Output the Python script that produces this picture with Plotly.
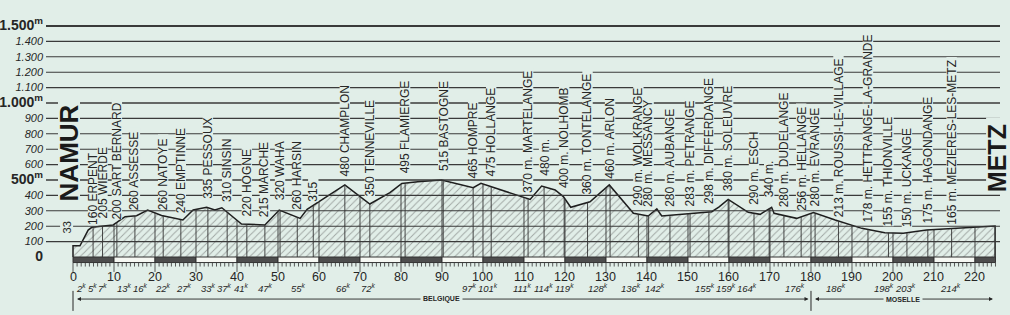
import numpy as np
import plotly.graph_objects as go

BG = "#e1eee8"
INK = "#262626"
FONT = "Liberation Sans"

# ---------------- data ----------------
profile_km = [0, 0, 1.7, 3.7, 4.6, 8.5, 9.8, 12.7, 15.5, 18.2, 20.0, 21.6, 26.8, 29.3, 32.6,
              34.6, 36.3, 41.1, 46.8, 50.3, 55.4, 57.1, 66.3, 72.4, 77.3, 80.2, 84.1, 89.9,
              97.6, 99.5, 111.5, 114.3, 117.6, 119.6, 121.4, 126.1, 130.8, 132.6, 136.7,
              140.3, 142.4, 143.6, 150.5, 155.8, 157.6, 159.8, 164.7, 167.6, 170.4, 171.0,
              176.5, 180.6, 185.9, 192.4, 198.0, 202.5, 208.2, 223.7, 224.9, 224.9]
profile_alt = [0, 73, 73, 175, 193, 201, 208, 262, 268, 305, 288, 270, 240, 305, 323,
               305, 320, 214, 208, 305, 251, 310, 468, 344, 418, 478, 489, 500,
               450, 478, 374, 461, 435, 392, 323, 359, 468, 413, 284,
               266, 312, 266, 284, 294, 325, 374, 290, 277, 323, 284,
               251, 288, 240, 186, 158, 154, 175, 201, 201, 0]

town_names = ["ERPENT", "WIERDE", "SART BERNARD", "ASSESSE", "NATOYE", "EMPTINNE", "PESSOUX",
              "SINSIN", "HOGNE", "MARCHE", "WAHA", "HARSIN", "", "CHAMPLON", "TENNEVILLE",
              "FLAMIERGE", "BASTOGNE", "HOMPRE", "HOLLANGE", "MARTELANGE", "", "NOLHOMB",
              "TONTELANGE", "ARLON", "WOLKRANGE", "MESSANCY", "AUBANGE", "PETRANGE",
              "DIFFERDANGE", "SOLEUVRE", "ESCH", "", "DUDELANGE", "HELLANGE", "EVRANGE",
              "ROUSSI-LE-VILLAGE", "HETTRANGE-LA-GRANDE", "THIONVILLE", "UCKANGE",
              "HAGONDANGE", "MEZIERES-LES-METZ"]
town_km = [4.9, 7.2, 10.7, 15.1, 22.0, 26.3, 32.9, 37.6, 42.4, 46.8, 50.5, 54.7, 58.6, 66.3,
           72.4, 81.0, 90.3, 97.6, 102.0, 111.0, 114.9, 119.8, 125.5, 131.0, 137.9, 140.4,
           145.6, 150.5, 155.1, 159.8, 166.1, 169.8, 173.4, 177.6, 181.0, 186.7, 193.9,
           198.9, 203.4, 208.5, 214.3]
town_alt = [160, 205, 200, 260, 260, 240, 335, 310, 220, 215, 320, 260, 315, 480, 350, 495,
            515, 465, 475, 370, 480, 400, 360, 460, 290, 280, 280, 283, 298, 380, 290, 340,
            280, 256, 280, 213, 178, 155, 150, 175, 165]
metre_suffix_from = "MARTELANGE"

start_name, start_alt = "NAMUR", 33
end_name = "METZ"

alt_ticks = [0, 100, 200, 300, 400, 500, 600, 700, 800, 900, 1000, 1100, 1200, 1300, 1400, 1500]
alt_tick_labels = ["0", "100", "200", "300", "400", "500", "600", "700", "800", "900",
                   "1.000", "1.100", "1.200", "1.300", "1.400", "1.500"]
major_alts = [0, 500, 1000, 1500]

km_ticks = list(range(0, 230, 10))
km_end = 225
dist_labels = [2, 5, 7, 13, 16, 22, 27, 33, 37, 41, 47, 55, 66, 72, 97, 101, 111, 114, 119,
               128, 136, 142, 155, 159, 164, 176, 186, 198, 203, 214]

region_names = ["BELGIQUE", "MOSELLE"]
region_bounds = [0, 180, 225]

# ---------------- layout constants ----------------
W, H = 1010, 315
M_L, M_R, M_T, M_B = 46, 10, 15, 0
X_RANGE = [-6.585, 226.1]
Y_RANGE = [-376.6, 1571.4]
PX_PER_KM = (W - M_L - M_R) / (X_RANGE[1] - X_RANGE[0])
PX_PER_M = (H - M_T - M_B) / (Y_RANGE[1] - Y_RANGE[0])
BAND_BOT = -36
TICK_BOT = -62
DEC_TICK_BOT = -97
KM_LABEL_Y = -133
DIST_LABEL_Y = -201
REGION_Y = -273
LABEL_SIZE = 12
LABEL_LIFT = 6  # px between altitude point and label start

# Arial / Liberation Sans advance widths (per 1000 em)
_W = {" ": 278, ".": 278, "-": 333, "m": 833}
_W.update({d: 556 for d in "0123456789"})
_W.update(dict(A=667, B=667, C=722, D=722, E=667, F=611, G=778, H=722, I=278, J=500, K=667,
               L=556, M=833, N=722, O=778, P=667, Q=778, R=722, S=667, T=611, U=722, V=667,
               W=944, X=667, Y=667, Z=611))


def text_len(s, size, bold=False):
    return sum(_W.get(c, 600) for c in s) / 1000 * size * (1.05 if bold else 1.0)


fig = go.Figure()

# hatched profile
fig.add_trace(go.Scatter(
    x=profile_km, y=profile_alt, mode="lines", fill="tozeroy",
    fillcolor="rgba(0,0,0,0)",
    fillpattern=dict(shape="/", fgcolor="#5a5a5a", bgcolor="rgba(0,0,0,0)", size=5, solidity=0.18),
    line=dict(color="#1e1e1e", width=1.5), hoverinfo="skip", showlegend=False))

# vertical lines inside the profile (towns + every 10 km)
interp_km = profile_km[1:-1]
interp_alt = profile_alt[1:-1]
vx, vy = [], []
for k in list(town_km) + [k for k in km_ticks if 0 < k < km_end]:
    h = float(np.interp(k, interp_km, interp_alt))
    vx += [k, k, None]
    vy += [0, h, None]
fig.add_trace(go.Scatter(x=vx, y=vy, mode="lines", line=dict(color="#333", width=0.9),
                         hoverinfo="skip", showlegend=False))

# km scale ticks
tx, ty = [], []
for k in range(0, km_end + 1):
    bottom = DEC_TICK_BOT if k % 10 == 0 else TICK_BOT
    tx += [k, k, None]
    ty += [BAND_BOT, bottom, None]
fig.add_trace(go.Scatter(x=tx, y=ty, mode="lines", line=dict(color="#333", width=0.8),
                         hoverinfo="skip", showlegend=False))

shapes = []
# horizontal altitude lines
for a in alt_ticks[1:]:
    w = 2.0 if a == 1500 else (1.6 if a in major_alts else 1.1)
    shapes.append(dict(type="line", xref="x", yref="y", x0=X_RANGE[0], x1=X_RANGE[1],
                       y0=a, y1=a, line=dict(color="#3a3a3a", width=w), layer="above"))
# scale band
for i, k0 in enumerate(km_ticks):
    if k0 >= km_end:
        break
    k1 = min(k0 + 10, km_end)
    dark = (i % 2 == 0)
    shapes.append(dict(type="rect", xref="x", yref="y", x0=k0, x1=k1, y0=BAND_BOT, y1=0,
                       fillcolor="#4d4d4d" if dark else "#f6f8f3",
                       line=dict(color="#333", width=1), layer="above"))
# region boundaries
for b in region_bounds[:-1]:
    shapes.append(dict(type="line", xref="x", yref="y", x0=b, x1=b, y0=-220, y1=-350,
                       line=dict(color=INK, width=1), layer="above"))


def bg_box(xc, y0, half_w_px, y_lo_px, y_hi_px):
    """background rectangle (in data coords) that breaks the grid lines behind a label"""
    shapes.append(dict(type="rect", xref="x", yref="y",
                       x0=xc - half_w_px / PX_PER_KM, x1=xc + half_w_px / PX_PER_KM,
                       y0=y0 + y_lo_px / PX_PER_M, y1=y0 + y_hi_px / PX_PER_M,
                       fillcolor=BG, line=dict(width=0), layer="above"))


annotations = []
# town labels
m_idx = town_names.index(metre_suffix_from)
for i, (k, a, n) in enumerate(zip(town_km, town_alt, town_names)):
    num = f"{a} m." if i >= m_idx else f"{a}"
    txt = f"{num} {n}" if n else num
    L = text_len(txt, LABEL_SIZE)
    bg_box(k, a, 5.2, LABEL_LIFT + 1, LABEL_LIFT + L + 4)
    annotations.append(dict(x=k, y=a, xref="x", yref="y", text=txt, textangle=-90,
                            showarrow=False, xanchor="center", yanchor="bottom", yshift=LABEL_LIFT,
                            font=dict(family=FONT, size=LABEL_SIZE, color=INK), borderpad=0))

# start / end names
NAME_SIZE = 26
Ls = text_len(start_name, NAME_SIZE, bold=True)
bg_box(profile_km[1] - 4 / PX_PER_KM, start_alt, 11, 49, 49 + Ls + 4)
annotations.append(dict(x=profile_km[1], y=start_alt, text=f"<b>{start_name}</b>", textangle=-90,
                        showarrow=False, xanchor="center", yanchor="bottom", xshift=-4, yshift=49,
                        font=dict(family=FONT, size=NAME_SIZE, color="#1a1a1a"), borderpad=0))
annotations.append(dict(x=profile_km[1], y=start_alt, text=f"{start_alt}", textangle=-90,
                        showarrow=False, xanchor="center", yanchor="bottom", xshift=-6.5, yshift=17,
                        font=dict(family=FONT, size=11, color=INK), bgcolor=BG, borderpad=0))
Le = text_len(end_name, 25, bold=True)
bg_box(profile_km[-2] + 2 / PX_PER_KM, profile_alt[-2], 11, 33, 33 + Le + 4)
annotations.append(dict(x=profile_km[-2], y=profile_alt[-2], text=f"<b>{end_name}</b>", textangle=-90,
                        showarrow=False, xanchor="center", yanchor="bottom", xshift=2, yshift=33,
                        font=dict(family=FONT, size=25, color="#1a1a1a"), borderpad=0))
# km labels
for k in km_ticks:
    if k > km_end:
        continue
    annotations.append(dict(x=k, y=KM_LABEL_Y, text=str(k), showarrow=False,
                            xanchor="center", yanchor="middle",
                            font=dict(family=FONT, size=12.5, color=INK)))

# italic cumulative distances, spread apart where they would collide
DIST_SIZE = 9.5
pos = [float(d) for d in dist_labels]
wid = [(len(str(d)) * 0.556 * DIST_SIZE + 0.45 * DIST_SIZE + 1.0) / PX_PER_KM for d in dist_labels]
for _ in range(300):
    for i in range(len(pos) - 1):
        need = (wid[i] + wid[i + 1]) / 2
        gap = pos[i + 1] - pos[i]
        if gap < need:
            s = (need - gap) / 2
            pos[i] -= s
            pos[i + 1] += s
    pos[0] = max(pos[0], wid[0] / 2)
for d, p in zip(dist_labels, pos):
    annotations.append(dict(x=p, y=DIST_LABEL_Y, text=f"<i>{d}<sup>k</sup></i>", showarrow=False,
                            xanchor="center", yanchor="middle",
                            font=dict(family=FONT, size=DIST_SIZE, color=INK)))
# region dimension lines
for name, b0, b1 in zip(region_names, region_bounds[:-1], region_bounds[1:]):
    annotations.append(dict(x=b1 - 0.6, y=REGION_Y, ax=b0 + 0.6, ay=REGION_Y, xref="x", yref="y",
                            axref="x", ayref="y", text="", showarrow=True, arrowside="end+start",
                            arrowhead=2, arrowsize=0.9, arrowwidth=0.9, arrowcolor=INK))
    annotations.append(dict(x=(b0 + b1) / 2, y=REGION_Y, text=f"<b>{name}</b>", showarrow=False,
                            xanchor="center", yanchor="middle", bgcolor=BG, borderpad=2,
                            font=dict(family=FONT, size=7, color=INK)))

tick_text = []
for v, lbl in zip(alt_ticks, alt_tick_labels):
    if v in major_alts:
        sup = "<sup>m</sup>" if v > 0 else ""
        tick_text.append(f"<span style='font-size:14px'><b>{lbl}{sup}</b></span>")
    else:
        tick_text.append(f"<i>{lbl}</i>")

fig.update_layout(
    width=W, height=H,
    margin=dict(l=M_L, r=M_R, t=M_T, b=M_B),
    paper_bgcolor=BG, plot_bgcolor=BG,
    showlegend=False,
    shapes=shapes, annotations=annotations,
    xaxis=dict(range=X_RANGE, visible=False, fixedrange=True),
    yaxis=dict(range=Y_RANGE, tickvals=alt_ticks, ticktext=tick_text, showgrid=False,
               zeroline=False, showline=False, ticks="", ticklabelstandoff=2,
               tickfont=dict(family=FONT, size=11, color=INK), fixedrange=True),
)

fig.write_html("out.html")
